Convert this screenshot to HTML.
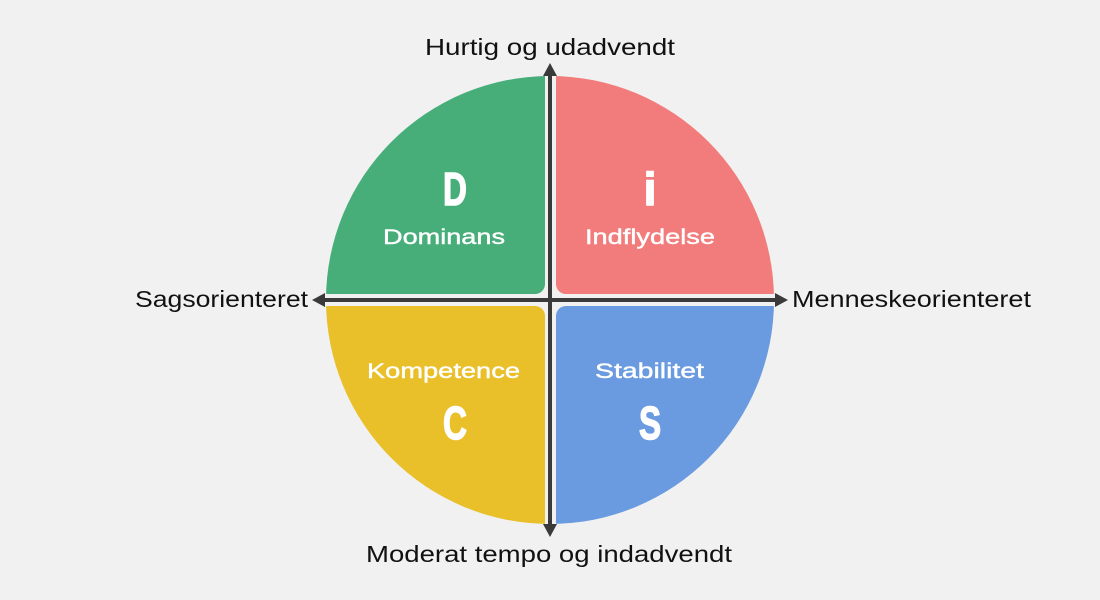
<!DOCTYPE html>
<html><head><meta charset="utf-8"><style>
html,body{margin:0;padding:0;background:#f1f1f1;}
svg{display:block}
</style></head><body>
<svg width="1100" height="600" viewBox="0 0 1100 600" xmlns="http://www.w3.org/2000/svg">
<rect width="1100" height="600" fill="#f1f1f1"/>
<defs><clipPath id="c"><circle cx="550" cy="300" r="224"/></clipPath></defs>
<g clip-path="url(#c)">
<rect x="300" y="50" width="245" height="244" rx="10" fill="#47ae7a"/>
<rect x="556" y="50" width="245" height="244" rx="10" fill="#f27b7b"/>
<rect x="300" y="306" width="245" height="244" rx="10" fill="#e9bf2a"/>
<rect x="556" y="306" width="245" height="244" rx="10" fill="#6a9ae0"/>
</g>
<g stroke="#3a3a3a" stroke-width="4">
<line x1="550" y1="72" x2="550" y2="528"/>
<line x1="320" y1="300" x2="780" y2="300"/>
</g>
<g fill="#3a3a3a">
<polygon points="550,63 543,76 557,76"/>
<polygon points="550,537 543,524 557,524"/>
<polygon points="312,300 325,293 325,307"/>
<polygon points="788,300 775,293 775,307"/>
</g>
<g font-family="Liberation Sans, sans-serif" fill="#fff" text-anchor="middle" font-weight="bold" stroke="#fff" stroke-width="1.5">
<text x="455" y="205" font-size="46" transform="translate(455 0) scale(0.72 1) translate(-455 0)">D</text>
<text x="650" y="205" font-size="46">i</text>
<text x="455" y="439" font-size="46" transform="translate(455 0) scale(0.72 1) translate(-455 0)">C</text>
<text x="650" y="439" font-size="46" transform="translate(650 0) scale(0.72 1) translate(-650 0)">S</text>
</g>
<g font-family="Liberation Sans, sans-serif" fill="#fff" font-size="21" stroke="#fff" stroke-width="0.4">
<text x="383" y="244" textLength="122" lengthAdjust="spacingAndGlyphs">Dominans</text>
<text x="585" y="244" textLength="130" lengthAdjust="spacingAndGlyphs">Indflydelse</text>
<text x="367" y="378" textLength="153" lengthAdjust="spacingAndGlyphs">Kompetence</text>
<text x="595" y="378" textLength="109" lengthAdjust="spacingAndGlyphs">Stabilitet</text>
</g>
<g font-family="Liberation Sans, sans-serif" fill="#111" font-size="23">
<text x="425" y="55" textLength="250" lengthAdjust="spacingAndGlyphs">Hurtig og udadvendt</text>
<text x="366" y="562" textLength="366" lengthAdjust="spacingAndGlyphs">Moderat tempo og indadvendt</text>
<text x="135" y="307" textLength="173" lengthAdjust="spacingAndGlyphs">Sagsorienteret</text>
<text x="792" y="307" textLength="239" lengthAdjust="spacingAndGlyphs">Menneskeorienteret</text>
</g>
</svg>
</body></html>
